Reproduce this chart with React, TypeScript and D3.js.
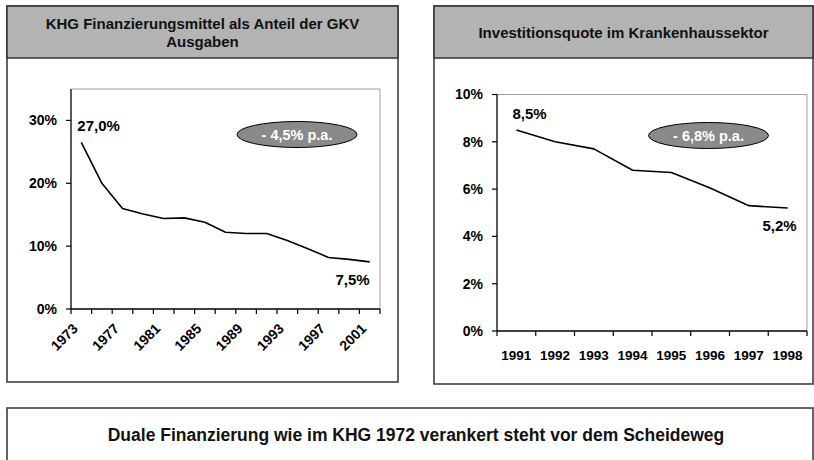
import React from "react";
import * as d3 from "d3";

// KHG funds as share of GKV spending (every 2nd year)
const khgYears = ["1973", "1975", "1977", "1979", "1981", "1983", "1985", "1987", "1989", "1991", "1993", "1995", "1997", "1999", "2001"];
const khgValues = [0.265, 0.2, 0.16, 0.151, 0.144, 0.145, 0.138, 0.122, 0.12, 0.12, 0.109, 0.096, 0.082, 0.079, 0.075];
const khgTicks = [0, 0.1, 0.2, 0.3];

// investment ratio in hospital sector
const invYears = ["1991", "1992", "1993", "1994", "1995", "1996", "1997", "1998"];
const invValues = [0.085, 0.08, 0.077, 0.068, 0.067, 0.0605, 0.053, 0.052];
const invTicks = [0, 0.02, 0.04, 0.06, 0.08, 0.1];

const FONT = "'Liberation Sans', Arial, Helvetica, sans-serif";
const pct = (v: number) => `${Math.round(v * 100)}%`;

function Panel({ x, y, w, h, title }: { x: number; y: number; w: number; h: number; title: string[] }) {
  const headerH = 52;
  return (
    <g>
      <rect x={x} y={y} width={w} height={h} fill="#fff" stroke="#333" strokeWidth={1.5} />
      <rect x={x} y={y} width={w} height={headerH} fill="#b3b3b3" stroke="#333" strokeWidth={1.5} />
      {title.map((t, i) => (
        <text
          key={i}
          x={x + w / 2}
          y={y + headerH / 2 + 1 + (i - (title.length - 1) / 2) * 18}
          dy="0.35em"
          textAnchor="middle"
          fontSize={15}
          fontWeight="bold"
          fill="#111"
        >
          {t}
        </text>
      ))}
    </g>
  );
}

function LineChart({
  cats, values, ticks, max, left, right, top, bottom, rotate, labelFirst, labelLast, badge, badgeX, badgeY,
}: {
  cats: string[]; values: number[]; ticks: number[]; max: number;
  left: number; right: number; top: number; bottom: number; rotate: boolean;
  labelFirst: string; labelLast: string; badge: string; badgeX: number; badgeY: number;
}) {
  const x = d3.scaleBand().domain(cats).range([left, right]);
  const y = d3.scaleLinear().domain([0, max]).range([bottom, top]);
  const cx = (c: string) => (x(c) as number) + x.bandwidth() / 2;
  const line = d3.line<number>().x((_, i) => cx(cats[i])).y((d) => y(d));
  const bounds = cats.map((c) => x(c) as number).concat([right]);
  const n = values.length;
  return (
    <g>
      <path d={`M${left},${top}H${right}V${bottom}`} fill="none" stroke="#888" strokeWidth={0.8} />
      <line x1={left} x2={left} y1={top} y2={bottom} stroke="#000" strokeWidth={1.3} />
      <line x1={left} x2={right} y1={bottom} y2={bottom} stroke="#000" strokeWidth={1.3} />
      {ticks.map((t) => (
        <g key={t}>
          <line x1={left - 5} x2={left} y1={y(t)} y2={y(t)} stroke="#000" strokeWidth={1.2} />
          <text x={left - 14} y={y(t)} dy="0.35em" textAnchor="end" fontSize={14} fontWeight="bold">
            {pct(t)}
          </text>
        </g>
      ))}
      {bounds.map((b, i) => (
        <line key={i} x1={b} x2={b} y1={bottom} y2={bottom + 5} stroke="#000" strokeWidth={1.2} />
      ))}
      {cats.map((c, i) =>
        rotate ? (
          i % 2 === 0 ? (
            <text
              key={c}
              transform={`translate(${cx(c) - 6},${bottom + 17}) rotate(-45)`}
              textAnchor="end"
              dy="0.35em"
              fontSize={14}
              fontWeight="bold"
            >
              {c}
            </text>
          ) : null
        ) : (
          <text key={c} x={cx(c)} y={bottom + 24} dy="0.35em" textAnchor="middle" fontSize={13.5} fontWeight="bold">
            {c}
          </text>
        )
      )}
      <path d={line(values) || ""} fill="none" stroke="#000" strokeWidth={1.6} strokeLinejoin="round" />
      <text x={cx(cats[0]) - 4} y={y(values[0]) - 11} fontSize={15} fontWeight="bold">
        {labelFirst}
      </text>
      <text x={cx(cats[n - 1]) + (rotate ? 0 : 9)} y={y(values[n - 1]) + 23} textAnchor="end" fontSize={15} fontWeight="bold">
        {labelLast}
      </text>
      <ellipse cx={badgeX} cy={badgeY} rx={60} ry={13} fill="#8a8a8a" stroke="#000" strokeWidth={1} />
      <text x={badgeX} y={badgeY} dy="0.35em" textAnchor="middle" fontSize={14.5} fontWeight="bold" fill="#fff">
        {badge}
      </text>
    </g>
  );
}

export default function App() {
  return (
    <div style={{ position: "absolute", left: 0, top: 0 }}>
      <svg width={814} height={460} style={{ display: "block", fontFamily: FONT }}>
        <rect width={814} height={460} fill="#fff" />
        <Panel x={7} y={6} w={391} h={376} title={["KHG Finanzierungsmittel als Anteil der GKV", "Ausgaben"]} />
        <Panel x={434} y={6} w={379} h={378} title={["Investitionsquote im Krankenhaussektor"]} />
        <LineChart
          cats={khgYears}
          values={khgValues}
          ticks={khgTicks}
          max={0.35}
          left={71}
          right={380}
          top={89}
          bottom={309}
          rotate={true}
          labelFirst="27,0%"
          labelLast="7,5%"
          badge="- 4,5% p.a."
          badgeX={297}
          badgeY={134.5}
        />
        <LineChart
          cats={invYears}
          values={invValues}
          ticks={invTicks}
          max={0.1}
          left={497}
          right={807}
          top={94.5}
          bottom={331}
          rotate={false}
          labelFirst="8,5%"
          labelLast="5,2%"
          badge="- 6,8% p.a."
          badgeX={708.5}
          badgeY={135.5}
        />
        <rect x={7} y={408} width={806} height={70} fill="#fff" stroke="#333" strokeWidth={1.5} />
        <text x={416} y={435} dy="0.35em" textAnchor="middle" fontSize={17.5} fontWeight="bold" fill="#111">
          Duale Finanzierung wie im KHG 1972 verankert steht vor dem Scheideweg
        </text>
      </svg>
    </div>
  );
}
